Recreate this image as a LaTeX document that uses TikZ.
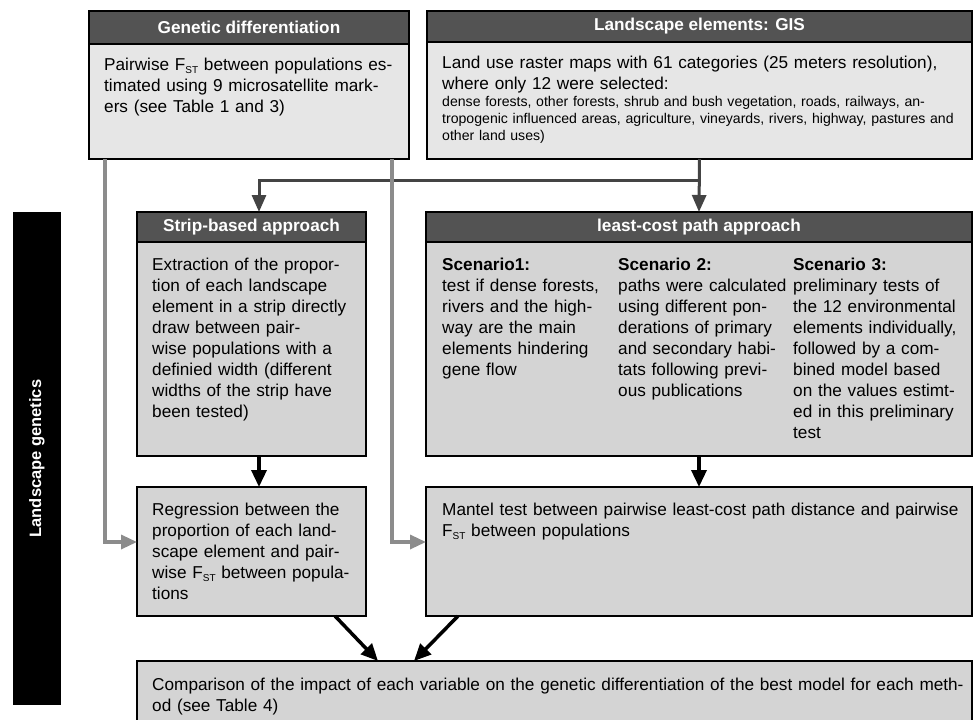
\documentclass[tikz,border=0pt]{standalone}
\usepackage{fontspec}
\setmainfont{Liberation Sans}
\usetikzlibrary{arrows.meta}
\definecolor{hdrgray}{HTML}{535353}
\definecolor{topfill}{HTML}{E6E6E6}
\definecolor{midfill}{HTML}{D4D4D4}
\definecolor{linkgray}{HTML}{8C8C8C}
\definecolor{linkdark}{HTML}{444444}
\newcommand\fstsub{F\raisebox{-0.4ex}{\fontsize{10}{10}\selectfont ST}}
\begin{document}
\begin{tikzpicture}[x=1pt,y=-1pt,
  boxbase/.style={draw=black, line width=2.5pt, inner sep=0pt, outer sep=0pt, anchor=north west, rectangle},
  topbox/.style={boxbase, fill=topfill},
  midbox/.style={boxbase, fill=midfill},
  hdrbox/.style={boxbase, fill=hdrgray, text=white, font=\fontsize{17.2}{21}\selectfont\bfseries},
  txt/.style={font=\fontsize{17.2}{21}\selectfont, text width=#1, align=left, inner sep=0pt, anchor=base west},
  smalltxt/.style={font=\fontsize{14.1}{17}\selectfont, text width=#1, align=left, inner sep=0pt, anchor=base west},
  graylink/.style={draw=linkgray, line width=3.3pt, -{Triangle[length=16pt,width=14pt]}},
  darklink/.style={draw=linkdark, line width=3pt, -{Triangle[length=17pt,width=14pt]}},
  blacklink/.style={draw=black, line width=3.5pt, -{Triangle[length=17pt,width=15pt]}},
]
\useasboundingbox (0,0) rectangle (975,720);
\clip (0,0) rectangle (975,720);

% left bar
\node[fill=black, inner sep=0pt, outer sep=0pt, anchor=north west, minimum width=48pt, minimum height=493pt] (bar) at (13,212) {};
\node[rotate=90, text=white, font=\fontsize{16.5}{20}\selectfont\bfseries, inner sep=0pt] (bartxt) at (bar.center) {Landscape genetics};

% top boxes
\node[topbox, minimum width=320pt, minimum height=148pt] (gd) at (89,11) {};
\node[hdrbox, minimum width=320pt, minimum height=33pt] (gdh) at (89,11) {Genetic differentiation};
\node[txt=300pt] (gdt) at (104,70) {Pairwise \fstsub{} between populations es-\\timated using 9 microsatellite mark-\\ers (see Table 1 and 3)};

\node[topbox, minimum width=545pt, minimum height=148pt] (gis) at (427,11) {};
\node[hdrbox, minimum width=545pt, minimum height=31pt] (gish) at (427,11) {Landscape elements: GIS};
\node[txt=525pt] (gist) at (442,68) {Land use raster maps with 61 categories (25 meters resolution),\\where only 12 were selected:};
\node[smalltxt=528pt] (giss) at (442,106) {dense forests, other forests, shrub and bush vegetation, roads, railways, an-\\tropogenic influenced areas, agriculture, vineyards, rivers, highway, pastures and\\other land uses)};

% middle boxes
\node[midbox, minimum width=229pt, minimum height=244pt] (strip) at (137,212) {};
\node[hdrbox, minimum width=229pt, minimum height=30pt] (striph) at (137,212) {Strip-based approach};
\node[txt=212pt] (stript) at (152,270) {Extraction of the propor-\\tion of each landscape\\element in a strip directly\\draw between pair-\\wise populations with a\\definied width (different\\widths of the strip have\\been tested)};

\node[midbox, minimum width=546pt, minimum height=244pt] (lcp) at (426,212) {};
\node[hdrbox, minimum width=546pt, minimum height=30pt] (lcph) at (426,212) {least-cost path approach};
\node[txt=172pt] (sc1) at (442,270) {{\bfseries Scenario1:}\\test if dense forests,\\rivers and the high-\\way are the main\\elements hindering\\gene flow};
\node[txt=172pt] (sc2) at (618,270) {{\bfseries Scenario 2:}\\paths were calculated\\using different pon-\\derations of primary\\and secondary habi-\\tats following previ-\\ous publications};
\node[txt=172pt] (sc3) at (793,270) {{\bfseries Scenario 3:}\\preliminary tests of\\the 12 environmental\\elements individually,\\followed by a com-\\bined model based\\on the values estimt-\\ed in this preliminary\\test};

% lower boxes
\node[midbox, minimum width=229pt, minimum height=129pt] (reg) at (137,487) {};
\node[txt=212pt] (regt) at (152,515) {Regression between the\\proportion of each land-\\scape element and pair-\\wise \fstsub{} between popula-\\tions};

\node[midbox, minimum width=546pt, minimum height=129pt] (man) at (426,487) {};
\node[txt=528pt] (mant) at (442,515) {Mantel test between pairwise least-cost path distance and pairwise\\\fstsub{} between populations};

\node[midbox, minimum width=835pt, minimum height=80pt] (comp) at (137,661) {};
\node[txt=815pt] (compt) at (152,690) {Comparison of the impact of each variable on the genetic differentiation of the best model for each meth-\\od (see Table 4)};

% connectors
\draw[darklink] (gis.south) -- (lcp.north);
\draw[darklink] ([yshift=-21pt]gis.south) -| ([xshift=7.5pt]strip.north);
\draw[graylink] ([xshift=16pt]gd.south west) |- ([yshift=9.5pt]reg.west);
\draw[graylink] ([xshift=303pt]gd.south west) |- ([yshift=9.5pt]man.west);
\draw[blacklink] ([xshift=7.5pt]strip.south) -- ([xshift=7.5pt]reg.north);
\draw[blacklink] (lcp.south) -- (man.north);
\draw[blacklink] ([xshift=198pt]reg.south west) -- ([xshift=241pt]comp.north west);
\draw[blacklink] ([xshift=32pt]man.south west) -- ([xshift=277pt]comp.north west);
\end{tikzpicture}
\end{document}
